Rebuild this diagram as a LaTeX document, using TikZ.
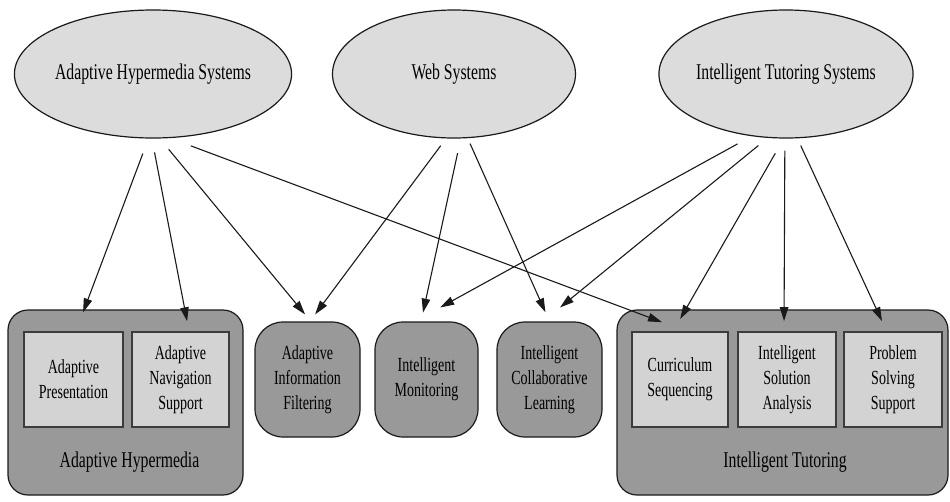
\documentclass[tikz,border=0pt]{standalone}
\usepackage{fontspec}
\setmainfont{Liberation Serif}[FakeStretch=0.7]
\usepackage{tikz}
\usetikzlibrary{shapes.geometric,arrows.meta}
\definecolor{sysfill}{HTML}{DCDCDC}
\definecolor{grpfill}{HTML}{999999}
\definecolor{subfill}{HTML}{D3D3D3}
\definecolor{edgeblk}{HTML}{1A1A1A}

\begin{document}
\begin{tikzpicture}[x=1pt,y=-1pt,
    sys/.style={ellipse, draw=edgeblk, line width=1.2pt, fill=sysfill, minimum width=243pt, minimum height=128pt, inner sep=0pt, font=\fontsize{22.5}{25}\selectfont},
    grp/.style={rectangle, rounded corners=20pt, draw=edgeblk, line width=1.2pt, fill=grpfill},
    sub/.style={rectangle, draw=edgeblk!85, line width=1.8pt, fill=subfill, minimum height=95pt, align=center, inner sep=0pt, font=\fontsize{20}{25}\selectfont},
    solo/.style={rectangle, rounded corners=28pt, draw=edgeblk, line width=1.2pt, fill=grpfill, minimum width=105pt, minimum height=115pt, align=center, inner sep=0pt, font=\fontsize{20}{25}\selectfont},
    lbl/.style={font=\fontsize{22.5}{25}\selectfont, inner sep=0pt},
    arr/.style={-{Triangle[length=14pt,width=8.5pt]}, line width=1.1pt, draw=edgeblk}]
        \useasboundingbox (0,0) rectangle (950,501);
        % systems
        \node [sys] (ahs) at (153,74) {Adaptive Hypermedia Systems};
        \node [sys] (web) at (454,74) {Web Systems};
        \node [sys] (its) at (786,74) {Intelligent Tutoring Systems};
        % groups
        \node [grp, minimum width=235pt, minimum height=185pt] (ah) at (125.5,402.5) {};
        \node [grp, minimum width=331pt, minimum height=185pt] (it) at (782.5,402.5) {};
        \node [lbl] (ahlbl) at (129.5,462) {Adaptive Hypermedia};
        \node [lbl] (itlbl) at (785,462) {Intelligent Tutoring};
        \node [sub, minimum width=99pt] (pres) at (73.5,379.5) {Adaptive\\Presentation};
        \node [sub, minimum width=97pt] (nav) at (180.5,379.5) {Adaptive\\Navigation\\Support};
        \node [sub, minimum width=96pt] (cur) at (680,379.5) {Curriculum\\Sequencing};
        \node [sub, minimum width=98pt] (sol) at (787,379.5) {Intelligent\\Solution\\Analysis};
        \node [sub, minimum width=98pt] (pss) at (893,379.5) {Problem\\Solving\\Support};
        \node [solo] (aif) at (307.5,379.5) {Adaptive\\Information\\Filtering};
        \node [solo, minimum width=103pt] (mon) at (426.5,379.5) {Intelligent\\Monitoring};
        \node [solo] (col) at (549.5,379.5) {Intelligent\\Collaborative\\Learning};
        % edges
        \draw [arr, shorten <=16pt, shorten >=20pt] (ahs.-94.9) -- ([xshift=2.5pt]pres.north);
        \draw [arr, shorten <=14pt, shorten >=10pt] (ahs.-91.5) -- ([xshift=8.5pt]nav.north);
        \draw [arr, shorten <=14pt, shorten >=9pt] (ahs.-84.6) -- ([xshift=3.3pt]aif.north);
        \draw [arr, shorten <=22pt, shorten >=25.5pt] (ahs.-75.5) -- ([xshift=5.9pt]cur.north);
        \draw [arr, shorten <=9pt, shorten >=8.7pt] (web.-97.8) -- ([xshift=2.4pt]aif.north);
        \draw [arr, shorten <=15pt, shorten >=9pt] (web.-84.5) -- ([xshift=-5.4pt]mon.north);
        \draw [arr, shorten <=6pt, shorten >=10pt] (web.-78.8) -- (col.north);
        \draw [arr, shorten <=16pt, shorten >=29pt] (its.-119.8) -- ([xshift=-11.7pt]mon.north);
        \draw [arr, shorten <=12pt, shorten >=22pt] (its.-106.5) -- ([xshift=-6.5pt]col.north);
        \draw [arr, shorten <=17pt, shorten >=14pt] (its.-92.2) -- ([xshift=-6.8pt]cur.north);
        \draw [arr, shorten <=12pt, shorten >=10pt] (its.-91.8) -- ([xshift=-3pt]sol.north);
        \draw [arr, shorten <=8pt, shorten >=11pt] (its.-80.6) -- ([xshift=-6.4pt]pss.north);
    \end{tikzpicture}
\end{document}
